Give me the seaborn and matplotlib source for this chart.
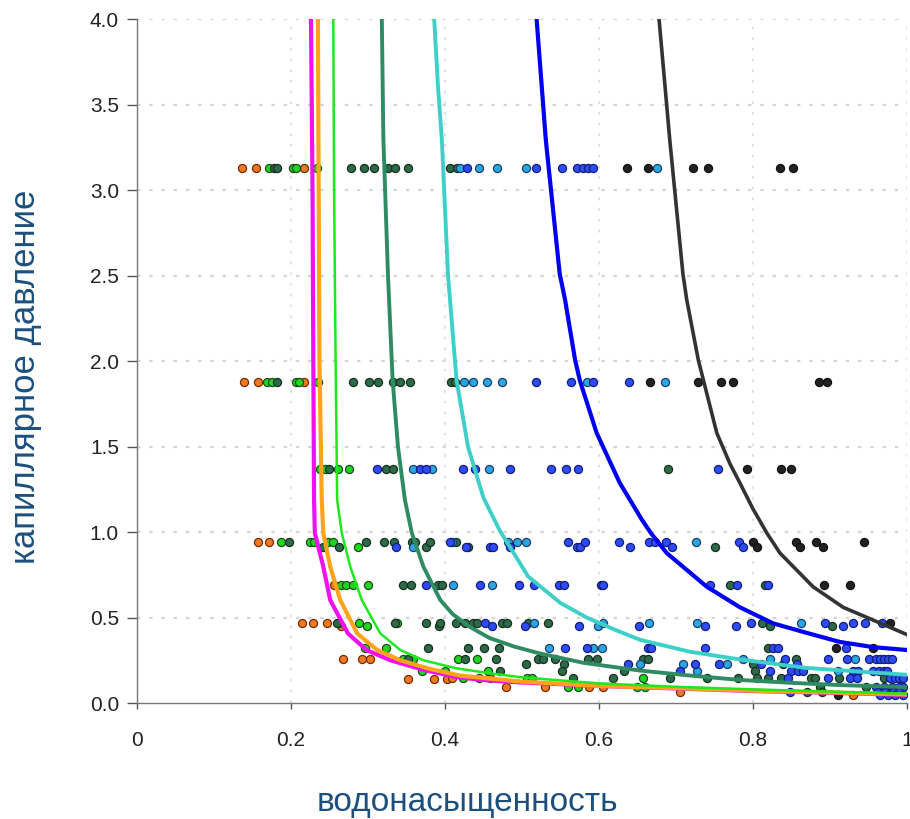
import matplotlib
matplotlib.use("Agg")
import matplotlib.pyplot as plt
import seaborn as sns
import pandas as pd

# ---------------- fitted curves (Sw, Pc) ----------------
magenta_x = [0.226, 0.228, 0.229, 0.230, 0.231, 0.242, 0.251, 0.274, 0.298, 0.329, 0.373, 0.415, 0.450, 0.500, 0.600, 0.700, 0.800, 0.900, 1.000]
magenta_y = [4.0, 3.0, 2.0, 1.187, 0.994, 0.797, 0.602, 0.407, 0.31, 0.25, 0.193, 0.152, 0.134, 0.12, 0.10, 0.085, 0.07, 0.06, 0.047]
orange_cx = [0.235, 0.237, 0.240, 0.242, 0.251, 0.264, 0.286, 0.312, 0.342, 0.380, 0.420, 0.500, 0.600, 0.700, 0.800, 0.900, 1.000]
orange_cy = [4.0, 2.0, 1.187, 0.994, 0.797, 0.602, 0.407, 0.31, 0.25, 0.20, 0.16, 0.125, 0.10, 0.087, 0.072, 0.062, 0.05]
lime_cx = [0.255, 0.256, 0.258, 0.260, 0.266, 0.277, 0.292, 0.316, 0.342, 0.372, 0.415, 0.458, 0.500, 0.600, 0.700, 0.800, 0.900, 1.000]
lime_cy = [4.0, 3.0, 2.0, 1.187, 0.994, 0.797, 0.602, 0.407, 0.31, 0.25, 0.203, 0.174, 0.15, 0.115, 0.095, 0.08, 0.067, 0.055]
dgreen_cx = [0.318, 0.320, 0.326, 0.332, 0.339, 0.348, 0.357, 0.372, 0.394, 0.410, 0.432, 0.458, 0.490, 0.523, 0.580, 0.653, 0.720, 0.783, 0.850, 0.913, 1.000]
dgreen_cy = [4.0, 3.3, 2.5, 1.889, 1.497, 1.187, 0.994, 0.797, 0.602, 0.52, 0.446, 0.38, 0.33, 0.29, 0.235, 0.19, 0.16, 0.135, 0.118, 0.105, 0.093]
turq_cx = [0.386, 0.391, 0.396, 0.404, 0.415, 0.430, 0.450, 0.471, 0.508, 0.550, 0.584, 0.620, 0.653, 0.718, 0.783, 0.870, 1.000]
turq_cy = [4.0, 3.6, 3.29, 2.5, 1.889, 1.497, 1.2, 1.01, 0.74, 0.585, 0.50, 0.43, 0.37, 0.30, 0.255, 0.205, 0.165]
blue_cx = [0.519, 0.531, 0.549, 0.556, 0.569, 0.575, 0.597, 0.627, 0.656, 0.668, 0.688, 0.740, 0.783, 0.826, 0.870, 0.913, 0.956, 1.000]
blue_cy = [4.0, 3.29, 2.51, 2.357, 2.006, 1.889, 1.579, 1.287, 1.07, 0.99, 0.877, 0.68, 0.56, 0.466, 0.41, 0.357, 0.327, 0.31]
black_cx = [0.678, 0.692, 0.709, 0.714, 0.729, 0.753, 0.770, 0.783, 0.800, 0.818, 0.835, 0.878, 0.917, 0.956, 1.000]
black_cy = [4.0, 3.29, 2.51, 2.357, 2.006, 1.579, 1.40, 1.287, 1.135, 0.994, 0.877, 0.68, 0.56, 0.485, 0.40]

# ---------------- measured points ----------------
pt_orange_x = [0.137, 0.155, 0.217, 0.139, 0.157, 0.217, 0.157, 0.172, 0.256,
               0.214, 0.228, 0.247, 0.265, 0.268, 0.292, 0.303,
               0.352, 0.386, 0.402, 0.409, 0.458, 0.479, 0.530, 0.587, 0.605, 0.705, 0.930]
pt_orange_y = [3.13, 3.13, 3.13, 1.88, 1.88, 1.88, 0.94, 0.94, 0.69,
               0.47, 0.47, 0.47, 0.45, 0.26, 0.26, 0.26,
               0.14, 0.14, 0.14, 0.145, 0.145, 0.094, 0.094, 0.094, 0.094, 0.064, 0.047]

pt_green_x = [0.171, 0.203, 0.206, 0.234, 0.169, 0.175, 0.206, 0.210, 0.235,
              0.238, 0.244, 0.261, 0.275, 0.187, 0.225, 0.230, 0.248, 0.255, 0.287,
              0.265, 0.271, 0.280, 0.300, 0.262, 0.288, 0.299, 0.338,
              0.296, 0.323, 0.345, 0.358, 0.417, 0.441, 0.370, 0.400, 0.456,
              0.424, 0.444, 0.506, 0.513, 0.657, 0.560, 0.573, 0.649, 0.660, 0.980]
pt_green_y = [3.13, 3.13, 3.13, 3.13, 1.88, 1.88, 1.88, 1.88, 1.88,
              1.37, 1.37, 1.37, 1.37, 0.94, 0.94, 0.94, 0.94, 0.94, 0.91,
              0.69, 0.69, 0.69, 0.69, 0.47, 0.47, 0.45, 0.47,
              0.32, 0.32, 0.26, 0.26, 0.26, 0.26, 0.19, 0.19, 0.19,
              0.145, 0.145, 0.145, 0.145, 0.145, 0.094, 0.094, 0.094, 0.094, 0.064]

pt_dgreen_x = [0.178, 0.182, 0.278, 0.295, 0.308, 0.326, 0.335, 0.352, 0.406, 0.415,
               0.182, 0.281, 0.301, 0.313, 0.333, 0.341, 0.355, 0.408, 0.413,
               0.250, 0.323, 0.333, 0.690,
               0.198, 0.242, 0.262, 0.297, 0.321, 0.334, 0.357, 0.361, 0.376, 0.380, 0.414, 0.430, 0.751,
               0.345, 0.356, 0.391, 0.396, 0.770, 0.816,
               0.260, 0.335, 0.375, 0.392, 0.394, 0.414, 0.426, 0.437, 0.442, 0.474, 0.480, 0.508, 0.534, 0.812, 0.822, 0.902,
               0.378, 0.430, 0.451, 0.470, 0.820,
               0.352, 0.426, 0.466, 0.521, 0.527, 0.543, 0.586, 0.597, 0.657, 0.664, 0.856,
               0.505, 0.554, 0.800, 0.839,
               0.472, 0.552, 0.632, 0.803,
               0.566, 0.618, 0.692, 0.740, 0.781, 0.805, 0.819, 0.836, 0.875, 0.880, 0.912, 0.970,
               0.887, 0.947, 0.870, 0.890]
pt_dgreen_y = [3.13] * 10 + [1.88] * 9 + [1.37] * 4 + \
              [0.94, 0.91, 0.91, 0.94, 0.94, 0.94, 0.94, 0.94, 0.91, 0.94, 0.94, 0.91, 0.91] + \
              [0.69] * 6 + \
              [0.47, 0.47, 0.47, 0.45, 0.47, 0.47, 0.47, 0.47, 0.47, 0.47, 0.47, 0.47, 0.47, 0.47, 0.45, 0.45] + \
              [0.32] * 5 + [0.26] * 11 + [0.23] * 4 + [0.19] * 4 + [0.145] * 12 + \
              [0.094, 0.094, 0.064, 0.064]

pt_lblue_x = [0.419, 0.444, 0.468, 0.505, 0.675,
              0.425, 0.436, 0.454, 0.474, 0.584, 0.686,
              0.358, 0.383, 0.457,
              0.409, 0.358, 0.482, 0.494, 0.505, 0.726,
              0.410, 0.461,
              0.515, 0.599, 0.605, 0.665, 0.727, 0.862,
              0.535, 0.592, 0.604,
              0.653, 0.709, 0.766, 0.787, 0.822, 0.932, 0.727, 0.910]
pt_lblue_y = [3.13] * 5 + [1.88] * 6 + [1.37] * 3 + [0.94, 0.91, 0.94, 0.94, 0.94, 0.94] + \
             [0.69] * 2 + [0.47, 0.45, 0.47, 0.47, 0.47, 0.47] + [0.32] * 3 + \
             [0.23, 0.23, 0.23, 0.26, 0.26, 0.26, 0.19, 0.19]

pt_blue_x = [0.429, 0.518, 0.552, 0.571, 0.579, 0.586, 0.592,
             0.518, 0.564, 0.592, 0.639,
             0.312, 0.367, 0.375, 0.423, 0.439, 0.484, 0.538, 0.557, 0.573, 0.754,
             0.337, 0.406, 0.427, 0.458, 0.462, 0.484, 0.560, 0.571, 0.576, 0.582, 0.626, 0.640,
             0.665, 0.673, 0.687, 0.695, 0.782, 0.787,
             0.375, 0.445, 0.496, 0.515, 0.548, 0.554, 0.602, 0.605, 0.744, 0.779, 0.820,
             0.452, 0.461, 0.504, 0.574, 0.652, 0.738, 0.778, 0.798, 0.893, 0.917, 0.930, 0.945, 0.967,
             0.556, 0.584, 0.664, 0.668, 0.738, 0.826, 0.832, 0.921,
             0.841, 0.898, 0.922, 0.951, 0.960, 0.965, 0.970, 0.975, 0.980,
             0.638, 0.725, 0.756, 0.811, 0.857,
             0.705, 0.822, 0.850, 0.858, 0.865, 0.930, 0.936, 0.956, 0.963, 0.970, 0.974,
             0.846, 0.897, 0.926, 0.935, 0.978, 0.985, 0.990, 0.995,
             0.960, 0.970, 0.980, 0.990, 0.995,
             0.848, 0.962, 0.972, 0.982, 0.990,
             0.965, 0.975, 0.985, 0.995]
pt_blue_y = [3.13] * 7 + [1.88] * 4 + [1.37] * 10 + \
            [0.91, 0.94, 0.91, 0.91, 0.91, 0.91, 0.94, 0.91, 0.91, 0.94, 0.94, 0.91,
             0.94, 0.94, 0.94, 0.91, 0.94, 0.91] + \
            [0.69] * 11 + \
            [0.47, 0.45, 0.45, 0.45, 0.45, 0.45, 0.45, 0.47, 0.47, 0.45, 0.47, 0.47, 0.47] + \
            [0.32] * 8 + [0.26] * 9 + [0.23] * 5 + [0.19] * 11 + [0.145] * 8 + \
            [0.094] * 5 + [0.064] * 5 + [0.047] * 4

pt_black_x = [0.636, 0.664, 0.722, 0.741, 0.835, 0.852,
              0.666, 0.728, 0.759, 0.774, 0.886, 0.896,
              0.792, 0.836, 0.850,
              0.800, 0.805, 0.856, 0.861, 0.882, 0.891, 0.944,
              0.892, 0.926, 0.978, 0.908, 0.956, 0.911]
pt_black_y = [3.13] * 6 + [1.88] * 6 + [1.37] * 3 + \
             [0.94, 0.91, 0.94, 0.91, 0.94, 0.91, 0.94] + \
             [0.69, 0.69, 0.47, 0.32, 0.32, 0.047]

x_ticks = [0, 0.2, 0.4, 0.6, 0.8, 1.0]
x_tick_labels = ["0", "0.2", "0.4", "0.6", "0.8", "1"]
y_ticks = [0.0, 0.5, 1.0, 1.5, 2.0, 2.5, 3.0, 3.5, 4.0]
y_tick_labels = ["0.0", "0.5", "1.0", "1.5", "2.0", "2.5", "3.0", "3.5", "4.0"]

# ---------------- drawing ----------------
sns.set_style("white")
plt.rcParams['font.family'] = ['Liberation Sans', 'DejaVu Sans']

fig = plt.figure(figsize=(9.1, 8.19), dpi=100)
ax = fig.add_axes([0.1505, 0.1416, 0.8462, 0.8352])

# dotted grid
for yv in y_ticks[1:]:
    ax.axhline(yv, color="#d4d4d4", lw=1.6, ls=(0, (1.5, 4)), zorder=0)
for xv in x_ticks[1:]:
    ax.axvline(xv, color="#e2e2e2", lw=1.4, ls=(0, (1.5, 4)), zorder=0)

curves = [
    (magenta_x, magenta_y, "#f010f0", 3.0),
    (orange_cx, orange_cy, "#ffa31a", 3.0),
    (lime_cx, lime_cy, "#1ee81e", 1.8),
    (dgreen_cx, dgreen_cy, "#2e8b62", 2.8),
    (turq_cx, turq_cy, "#3ed0c8", 2.8),
    (blue_cx, blue_cy, "#0000f0", 3.0),
    (black_cx, black_cy, "#333333", 2.6),
]

points = [
    (pt_orange_x, pt_orange_y, "#ea7a24", "#7a2a05"),
    (pt_green_x, pt_green_y, "#1fd61f", "#1d4a1d"),
    (pt_dgreen_x, pt_dgreen_y, "#2c6a48", "#16301f"),
    (pt_lblue_x, pt_lblue_y, "#2aa6e0", "#1a3f70"),
    (pt_blue_x, pt_blue_y, "#2d4cf5", "#121c7a"),
    (pt_black_x, pt_black_y, "#222222", "#111111"),
]

for xs, ys, fc, ec in points:
    df = pd.DataFrame({"Sw": xs, "Pc": ys})
    sns.scatterplot(data=df, x="Sw", y="Pc", ax=ax, color=fc, edgecolor=ec,
                    linewidth=0.9, s=34, zorder=3, legend=False)

for xs, ys, col, lw in curves:
    df = pd.DataFrame({"Sw": xs, "Pc": ys})
    sns.lineplot(data=df, x="Sw", y="Pc", ax=ax, color=col, lw=lw, sort=False,
                 estimator=None, zorder=4, legend=False)

ax.set_xlim(0, 1)
ax.set_ylim(0, 4)
ax.set_xticks(x_ticks)
ax.set_xticklabels(x_tick_labels)
ax.set_yticks(y_ticks)
ax.set_yticklabels(y_tick_labels)
ax.tick_params(axis="both", colors="#555555", labelcolor="#222222", labelsize=15)
ax.tick_params(axis="y", length=7, width=1, pad=6, direction="out", left=True)
ax.tick_params(axis="x", length=4, width=1, pad=16, direction="out", bottom=True)

for side in ["top", "right"]:
    ax.spines[side].set_visible(False)
for side in ["left", "bottom"]:
    ax.spines[side].set_color("#777777")
    ax.spines[side].set_linewidth(1.0)

ax.set_xlabel("водонасыщенность", fontsize=24, color="#1d4f7c", va="center")
ax.xaxis.set_label_coords(0.4286, -0.145)
ax.set_ylabel("капиллярное давление", fontsize=25, color="#1d4f7c", va="center")
ax.yaxis.set_label_coords(-0.145, 0.477)

fig.savefig("out.png", dpi=100)
